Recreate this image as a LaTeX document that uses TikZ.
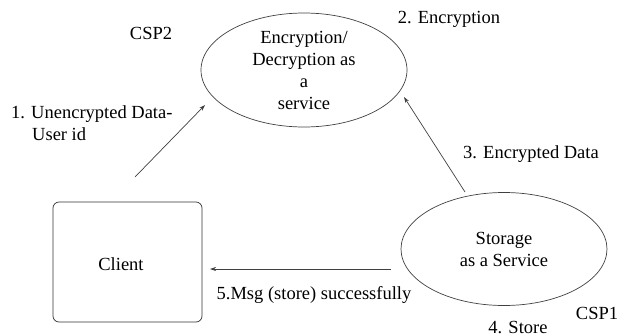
\documentclass[tikz,border=0pt]{standalone}
\usepackage{fontspec}
\setmainfont{Liberation Serif}
\usetikzlibrary{shapes.geometric,arrows.meta}
\begin{document}
\begin{tikzpicture}[x=1pt,y=-1pt,
  lbl/.style={inner sep=0pt,font=\fontsize{18.5}{22}\selectfont},
  svc/.style={draw=black!75,line width=0.7pt,ellipse,inner sep=0pt,
    align=center,font=\fontsize{18.5}{22}\selectfont},
  flow/.style={draw=black!75,line width=0.7pt,-{Stealth[length=6pt,width=4pt]}}]
\useasboundingbox (0,0) rectangle (619,333);
% services
\node[svc,minimum width=206pt,minimum height=114pt] (enc) at (304,70)
  {Encryption/\\Decryption as\\a\\service};
\node[svc,minimum width=206pt,minimum height=113pt] (sto) at (504,249)
  {Storage\\as a Service};
% client
\node[draw=black!80,line width=0.7pt,rounded corners=6pt,minimum width=149pt,
  minimum height=120pt,inner sep=0pt] (cli) at (127.5,262) {};
\node[lbl] (clit) at (121,264) {Client};
% loose ends of the connectors
\coordinate (c1s) at (135,177);
\coordinate (c1e) at (205,105);
\coordinate (c3s) at (465,192);
\coordinate (c3e) at (404,97);
\coordinate (c5s) at (391,269);
\coordinate (c5e) at (210,269);
\draw[flow] (c1s) -- (c1e);
\draw[flow] (c3s) -- (c3e);
\draw[flow] (c5s) -- (c5e);
% labels
\node[lbl] (csp2) at (151,33) {CSP2};
\node[lbl] (l2) at (449,19) {2. Encryption};
\node[lbl,align=left,anchor=west] (l1) at (11,123) {1. Unencrypted Data-\\\hspace*{21pt}User id};
\node[lbl] (l3) at (531,154) {3. Encrypted Data};
\node[lbl] (l5) at (314,295) {5.Msg (store) successfully};
\node[lbl] (csp1) at (597,313) {CSP1};
\node[lbl] (l4) at (518,327) {4. Store};
\end{tikzpicture}
\end{document}
